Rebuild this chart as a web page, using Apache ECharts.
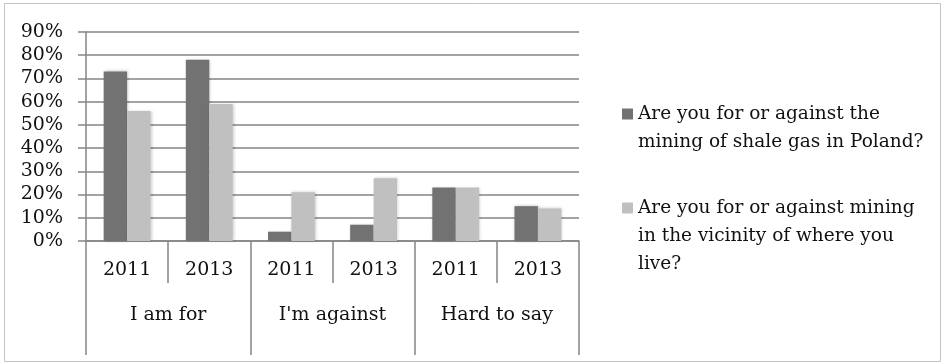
<!DOCTYPE html>
<html>
<head>
<meta charset="utf-8">
<script src="https://cdn.jsdelivr.net/npm/echarts@6/dist/echarts.min.js"></script>
<style>
html,body{margin:0;padding:0;background:#fff;}
#main{width:945px;height:364px;}
</style>
</head>
<body>
<div id="main"></div>
<script>
// 年份 / 分组
var years = ['2011', '2013', '2011', '2013', '2011', '2013'];
var groups = ['I am for', "I'm against", 'Hard to say'];
var yTicks = [0, 10, 20, 30, 40, 50, 60, 70, 80, 90];

// 两个问题的数据 (%)
var seriesNames = [
	'Are you for or against the mining of shale gas in Poland?',
	'Are you for or against mining in the vicinity of where you live?'
];
var legendLines = [
	['Are you for or against the', 'mining of shale gas in Poland?'],
	['Are you for or against mining', 'in the vicinity of where you', 'live?']
];
var shaleGas = [73, 78, 4, 7, 23, 15];
var vicinity = [56, 59, 21, 27, 23, 14];

var FONT = 'DejaVu Serif';

var chart = echarts.init(document.getElementById('main'));

var option = {
	animation: false,
	backgroundColor: '#fff',
	textStyle: { fontFamily: FONT },
	graphic: [{
		type: 'rect',
		shape: { x: 4.5, y: 3.5, width: 936, height: 358 },
		style: { fill: 'none', stroke: '#c4c4c4', lineWidth: 1 }
	}],
	grid: { left: 86, right: 366, top: 32, bottom: 123 },
	legend: {
		orient: 'vertical',
		left: 617,
		top: 67,
		itemWidth: 11,
		itemHeight: 11,
		itemGap: -18,
		icon: 'rect',
		selectedMode: false,
		data: seriesNames,
		textStyle: { fontFamily: FONT, fontSize: 18.5, color: '#111', lineHeight: 28 },
		formatter: function (name) {
			//图例换行, 前面补空行让色块对齐第一行
			var lines = legendLines[seriesNames.indexOf(name)];
			var pad = [];
			for (var i = 0; i < lines.length - 1; i++) pad.push(' ');
			return pad.concat(lines).join('\n');
		}
	},
	xAxis: [{
		type: 'category',
		position: 'bottom',
		data: years,
		axisLine: { show: true, lineStyle: { color: '#858585', width: 1.5 } },
		axisTick: { show: true, length: 42, interval: 0, lineStyle: { color: '#858585', width: 1.5 } },
		axisLabel: { margin: 20, fontSize: 19, color: '#111', fontFamily: FONT }
	}, {
		type: 'category',
		position: 'bottom',
		data: groups,
		axisLine: { show: false },
		axisTick: { show: true, length: 114, interval: 0, lineStyle: { color: '#858585', width: 1.5 } },
		axisLabel: { margin: 65, fontSize: 19, color: '#111', fontFamily: FONT }
	}],
	yAxis: {
		type: 'value',
		min: 0,
		max: 90,
		interval: 10,
		axisLine: { show: true, lineStyle: { color: '#858585', width: 1.5 } },
		axisTick: { show: true, length: 8, inside: false, lineStyle: { color: '#858585', width: 1.5 } },
		splitLine: { show: true, lineStyle: { color: '#858585', width: 1.5 } },
		axisLabel: {
			margin: 23,
			fontSize: 19,
			color: '#111',
			fontFamily: FONT,
			formatter: function (v) { return yTicks.indexOf(v) >= 0 ? v + '%' : ''; }
		}
	},
	series: [{
		name: seriesNames[0],
		type: 'bar',
		xAxisIndex: 0,
		data: shaleGas,
		barGap: '0%',
		barCategoryGap: '43%',
		itemStyle: { color: '#727272', shadowColor: 'rgba(0,0,0,0.25)', shadowBlur: 3, shadowOffsetX: 1 }
	}, {
		name: seriesNames[1],
		type: 'bar',
		xAxisIndex: 0,
		data: vicinity,
		barGap: '0%',
		barCategoryGap: '43%',
		itemStyle: { color: '#c0c0c0', shadowColor: 'rgba(0,0,0,0.2)', shadowBlur: 3, shadowOffsetX: 1 }
	}]
};

chart.setOption(option);
</script>
</body>
</html>
